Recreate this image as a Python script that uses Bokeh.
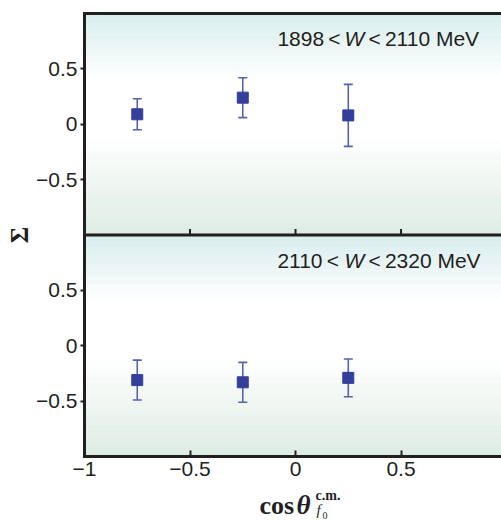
import numpy as np
from bokeh.plotting import figure
from bokeh.layouts import column
from bokeh.models import (Range1d, LinearAxis, FixedTicker, ColumnDataSource,
                          Whisker, TeeHead, Label, Span)
from bokeh.embed import file_html
from bokeh.resources import INLINE

# ---------------- data ----------------
cos_theta = [-0.75, -0.25, 0.25]
sigma_bin1 = [0.09, 0.24, 0.08]
err_bin1 = [0.14, 0.18, 0.28]
sigma_bin2 = [-0.31, -0.33, -0.29]
err_bin2 = [0.18, 0.18, 0.17]
bin_edges = [("1898", "2110"), ("2110", "2320")]
x_ticks = [-1, -0.5, 0, 0.5]
x_tick_labels = ["\u22121", "\u22120.5", "0", "0.5"]
y_ticks = [0.5, 0, -0.5]
y_tick_labels = ["0.5", "0", "\u22120.5"]

# ---------------- style ----------------
DARK = "#231f20"
MARK = "#343f9b"
ERR = "#5562ae"
SANS = "Liberation Sans"
SERIF = "Liberation Serif"

W = 501
LEFT, TOP, BOTTOM = 84, 13, 31
FRAME_H = 443
H = TOP + FRAME_H + BOTTOM
X0, X1 = -1.0, 0.976
frame_w = W - LEFT
ppx = frame_w / (X1 - X0)      # pixels per x unit
ppy = FRAME_H / 4.0            # pixels per y unit (two panels of 2 units)

p = figure(width=W, height=H, output_backend="svg", toolbar_location=None,
           x_range=Range1d(X0, X1), y_range=Range1d(-3, 1),
           min_border_left=LEFT, min_border_right=0, min_border_top=TOP,
           min_border_bottom=BOTTOM, x_axis_location=None, y_axis_location=None)
p.extra_y_ranges = {"bot": Range1d(-1, 3)}
p.xgrid.visible = False
p.ygrid.visible = False
p.outline_line_color = None
p.background_fill_color = "white"
p.border_fill_color = "white"

# ---------------- gradient background ----------------
stop_f = [0.0, 0.30, 0.56, 1.0]
stop_c = np.array([(216, 237, 237), (255, 255, 255), (255, 255, 255), (221, 236, 227)], float)
n = 90
edges = np.linspace(1, -1, n + 1)
frac = (np.arange(n) + 0.5) / n
cols = []
for f in frac:
    rgb = [np.interp(f, stop_f, stop_c[:, k]) for k in range(3)]
    cols.append("#%02x%02x%02x" % tuple(int(round(v)) for v in rgb))
bg = ColumnDataSource(dict(top=edges[:-1], bottom=edges[1:], color=cols))
for rng in ["default", "bot"]:
    p.quad(left=X0, right=1.0, top="top", bottom="bottom", fill_color="color",
           line_color="color", line_width=0.6, source=bg, y_range_name=rng,
           level="image")

# ---------------- axes ----------------
ov = {}
for t_, lab_ in zip(y_ticks, y_tick_labels):
    ov[t_] = lab_
    ov[t_ - 2] = lab_
yax = LinearAxis(ticker=FixedTicker(ticks=sorted(ov.keys())), major_label_overrides=ov,
                 axis_line_width=3, axis_line_color=DARK, axis_line_cap="square",
                 major_tick_out=4, major_tick_in=0, major_tick_line_width=2,
                 major_tick_line_color=DARK, minor_tick_out=0, minor_tick_in=0,
                 major_label_text_font=SANS, major_label_text_font_size="21px",
                 major_label_text_color=DARK, major_label_standoff=3,
                 axis_label="\u03a3", axis_label_text_font=SERIF,
                 axis_label_text_font_style="bold", axis_label_text_font_size="25px",
                 axis_label_text_color=DARK, axis_label_standoff=0)
p.add_layout(yax, "left")

xax = LinearAxis(ticker=FixedTicker(ticks=x_ticks),
                 major_label_overrides=dict(zip(x_ticks, x_tick_labels)),
                 axis_line_width=3, axis_line_color=DARK, axis_line_cap="square",
                 major_tick_out=0, major_tick_in=6, major_tick_line_width=2,
                 major_tick_line_color=DARK, minor_tick_out=0, minor_tick_in=0,
                 major_label_text_font=SANS, major_label_text_font_size="21px",
                 major_label_text_color=DARK, major_label_standoff=5)
p.add_layout(xax, "below")

top_ax = LinearAxis(ticker=FixedTicker(ticks=[]), axis_line_width=3,
                    axis_line_color=DARK, axis_line_cap="square",
                    major_tick_out=0, major_tick_in=0, minor_tick_out=0,
                    minor_tick_in=0, major_label_text_font_size="0px",
                    major_label_standoff=0)
p.add_layout(top_ax, "above")

# separator between the panels and its inner ticks
p.add_layout(Span(location=-1, dimension="width", line_color=DARK, line_width=3))
inner = [t_ for t_ in x_ticks if t_ > X0]
p.segment(x0=inner, x1=inner, y0=-1, y1=-1 + 6 / ppy, line_color=DARK, line_width=2)

# ---------------- data points ----------------
for ys, errs, rng in [(sigma_bin1, err_bin1, "default"), (sigma_bin2, err_bin2, "bot")]:
    src = ColumnDataSource(dict(x=cos_theta, y=ys,
                                upper=[y + e for y, e in zip(ys, errs)],
                                lower=[y - e for y, e in zip(ys, errs)]))
    wk = Whisker(source=src, base="x", upper="upper", lower="lower",
                 dimension="height", y_range_name=rng, line_color=ERR, line_width=1.6,
                 upper_head=TeeHead(size=9, line_color=ERR, line_width=1.6),
                 lower_head=TeeHead(size=9, line_color=ERR, line_width=1.6))
    p.add_layout(wk)
    p.scatter("x", "y", source=src, marker="square", size=11, fill_color=MARK,
              line_color=MARK, y_range_name=rng)

# ---------------- W-bin annotations ----------------
AW = {'0': 556, '1': 556, '2': 556, '3': 556, '4': 556, '5': 556, '6': 556,
      '7': 556, '8': 556, '9': 556, ' ': 278, '<': 584, 'M': 833, 'e': 556,
      'V': 667, 'W': 944}
FS = 21


def tw(s):
    return sum(AW[c] for c in s) * FS / 1000.0


for (lo, hi), rng in zip(bin_edges, ["default", "bot"]):
    part1 = f"{lo}\u2009<"
    part3 = f"<\u2009{hi} MeV"
    gap = 0.7 * tw(" ")
    total = tw(f"{lo}<") + gap * 4 + tw("W") + tw(f"<{hi} MeV")
    right_px = 480 - LEFT           # right end of the text, px from frame left
    start = X0 + (right_px - total) / ppx
    xw = start + (tw(f"{lo}<") + 2 * gap) / ppx
    x3 = xw + (tw("W") + gap) / ppx
    ytxt = 1 - 25 / ppy
    common = dict(y=ytxt, y_range_name=rng, text_baseline="middle",
                  text_font=SANS, text_font_size=f"{FS}px", text_color=DARK)
    p.add_layout(Label(x=start, text=part1, text_align="left", **common))
    p.add_layout(Label(x=xw, text="W", text_align="left", text_font_style="italic", **common))
    p.add_layout(Label(x=x3, text=part3, text_align="left", **common))

# ---------------- x-axis title (separate strip below) ----------------
LH = 520 - H
t = figure(width=W, height=LH, output_backend="svg", toolbar_location=None,
           x_range=Range1d(LEFT, W), y_range=Range1d(LH, 0),
           min_border_left=LEFT, min_border_right=0, min_border_top=0,
           min_border_bottom=0, x_axis_location=None, y_axis_location=None)
t.xgrid.visible = False
t.ygrid.visible = False
t.outline_line_color = None
t.border_fill_color = "white"
t.background_fill_color = "white"


def sy(page_y):
    return page_y - H        # pixels below the top of the strip


lab = dict(text_baseline="bottom", text_align="left", text_font=SERIF, text_color=DARK)
t.add_layout(Label(x=259, y=sy(519.5), text="cos", text_font_style="bold",
                   text_font_size="26px", **lab))
t.add_layout(Label(x=296, y=sy(519.5), text="\u03b8", text_font_style="bold italic",
                   text_font_size="27px", **lab))
t.add_layout(Label(x=315, y=sy(502), text="c.m.", text_font_style="bold",
                   text_font_size="14px", **lab))
t.add_layout(Label(x=316, y=sy(517), text="f", text_font_style="italic",
                   text_font_size="15px", **lab))
t.add_layout(Label(x=322, y=sy(518.5), text="0", text_font_style="normal",
                   text_font_size="10px", **lab))

layout = column(p, t, spacing=0)
open("out.html", "w").write(file_html(layout, INLINE))
